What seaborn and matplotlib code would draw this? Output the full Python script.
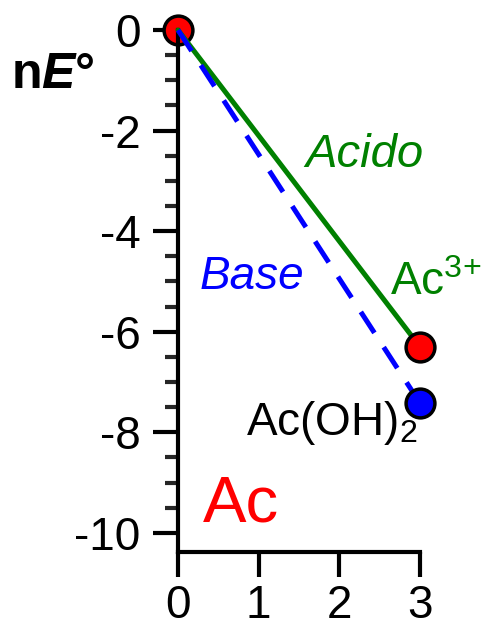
import matplotlib
matplotlib.use("Agg")
import matplotlib.pyplot as plt
import seaborn as sns
import pandas as pd
from matplotlib.ticker import MultipleLocator

# Frost diagram data for actinium
oxidation_state = [0, 3]
acid_nE = [0.0, -6.3]
base_nE = [0.0, -7.42]
x_ticks = [0, 1, 2, 3]
y_ticks = [0, -2, -4, -6, -8, -10]

sns.set_theme(style="ticks")
plt.rcParams["font.family"] = ["Liberation Sans", "DejaVu Sans"]
plt.rcParams["mathtext.fontset"] = "custom"
plt.rcParams["mathtext.rm"] = "Liberation Sans"
plt.rcParams["mathtext.it"] = "Liberation Sans:italic"
plt.rcParams["mathtext.bf"] = "Liberation Sans:bold"
plt.rcParams["mathtext.bfit"] = "Liberation Sans:italic:bold"

acid = pd.DataFrame({"n": oxidation_state, "nE": acid_nE})
base = pd.DataFrame({"n": oxidation_state, "nE": base_nE})

fig = plt.figure(figsize=(4.85, 6.23), dpi=100)
ax = fig.add_axes([178 / 485, 1 - 552 / 623, 242 / 485, 522 / 623])

lw = 3.6
axis_lw = 3.0
msize = 430
# origin point sits beneath the lines
sns.scatterplot(x=acid["n"][:1], y=acid["nE"][:1], ax=ax, s=msize, color="red",
                edgecolor="black", linewidth=2.5, zorder=2, clip_on=False, legend=False)
sns.lineplot(data=acid, x="n", y="nE", ax=ax, color="green", linewidth=lw,
             zorder=3, clip_on=False, legend=False)
sns.lineplot(data=base, x="n", y="nE", ax=ax, color="blue", linewidth=lw,
             zorder=3, clip_on=False, legend=False)
ax.lines[-1].set_dashes((5.0, 3.4))
# end points above the lines
sns.scatterplot(x=acid["n"][1:], y=acid["nE"][1:], ax=ax, s=msize, color="red",
                edgecolor="black", linewidth=2.5, zorder=4, clip_on=False, legend=False)
sns.scatterplot(x=base["n"][1:], y=base["nE"][1:], ax=ax, s=msize, color="blue",
                edgecolor="black", linewidth=2.5, zorder=4, clip_on=False, legend=False)

ax.set_xlim(0, 3)
ax.set_ylim(-10.38, 0)
ax.set_xticks(x_ticks)
ax.set_xticklabels([str(v) for v in x_ticks])
ax.set_yticks(y_ticks)
ax.set_yticklabels([str(v) for v in y_ticks])
ax.yaxis.set_minor_locator(MultipleLocator(0.5))
ax.set_xlabel("")
ax.set_ylabel("")

for side in ("top", "right"):
    ax.spines[side].set_visible(False)
for side in ("left", "bottom"):
    ax.spines[side].set_linewidth(axis_lw)
    ax.spines[side].set_color("black")

ax.tick_params(axis="both", which="major", direction="out", length=18, width=axis_lw,
               labelsize=33, colors="black")
ax.tick_params(axis="y", which="major", pad=9)
ax.tick_params(axis="x", which="major", pad=5)
ax.tick_params(axis="y", which="minor", direction="out", length=9.5, width=axis_lw)
ax.tick_params(axis="x", which="minor", length=0)

ax.text(2.31, -2.49, "Acido", color="green", fontsize=34, style="italic",
        ha="center", va="center")
ax.text(0.92, -4.91, "Base", color="blue", fontsize=33, style="italic",
        ha="center", va="center")
ax.text(2.63, -5.27, r"Ac$^{3\!+}$", color="green", fontsize=33,
        ha="left", va="baseline")
ax.text(2.975, -8.05, r"Ac(OH)$_2$", color="black", fontsize=33,
        ha="right", va="baseline")
ax.text(0.31, -9.78, "Ac", color="red", fontsize=47, ha="left", va="baseline")

fig.text(53 / 485, 1 - 75 / 623, r"n$\mathbfit{E}$°", fontsize=36, fontweight="bold",
         ha="center", va="center", color="black")

fig.savefig("out.png", dpi=100)
